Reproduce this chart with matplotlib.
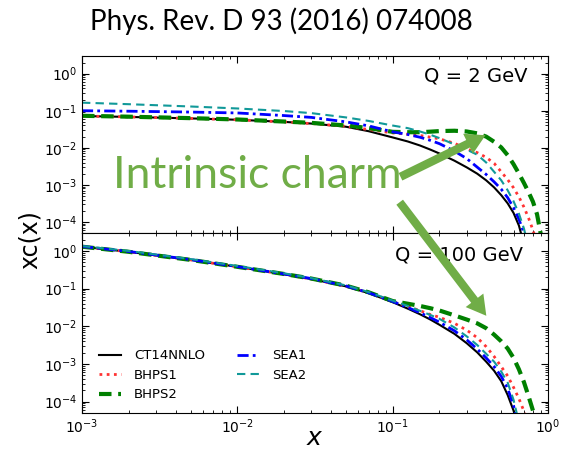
import numpy as np
import matplotlib
matplotlib.use("Agg")
import matplotlib.pyplot as plt
from matplotlib.patches import FancyArrowPatch

# x grid shared by all curves
x = [1e-3, 2e-3, 5e-3, 1e-2, 2e-2, 3e-2, 5e-2, 7e-2, 0.1, 0.125, 0.15, 0.175,
     0.2, 0.25, 0.3, 0.35, 0.4, 0.45, 0.5, 0.55, 0.6, 0.65, 0.7, 0.75, 0.8,
     0.85, 0.9]

# Q = 2 GeV
ct14_q2 = [0.072, 0.068, 0.062, 0.057, 0.050, 0.045, 0.037, 0.028, 0.019, 0.0148,
           0.0115, 0.0089, 0.0070, 0.00447, 0.00295, 0.0020, 0.00132, 8.5e-4,
           5.25e-4, 3.16e-4, 1.74e-4, 7.9e-5, 2.5e-5]
bhps1_q2 = [0.072, 0.068, 0.062, 0.057, 0.050, 0.045, 0.038, 0.031, 0.0251, 0.0232,
            0.0214, 0.0193, 0.0174, 0.0132, 0.0093, 0.0074, 0.0055, 0.0038, 0.00224,
            0.00138, 8.3e-4, 4.7e-4, 2.5e-4, 1.26e-4, 6e-5, 2.5e-5]
bhps2_q2 = [0.073, 0.069, 0.063, 0.058, 0.051, 0.047, 0.040, 0.034, 0.0269, 0.0263,
            0.0263, 0.0272, 0.0282, 0.0288, 0.0275, 0.0245, 0.020, 0.0145, 0.0102,
            0.0063, 0.0036, 0.0020, 0.00112, 6.3e-4, 3.5e-4, 1.6e-4, 4.5e-5]
sea1_q2 = [0.10, 0.097, 0.092, 0.087, 0.074, 0.066, 0.050, 0.039, 0.0269, 0.0229,
           0.0192, 0.0158, 0.0129, 0.0081, 0.0051, 0.0030, 0.0019, 0.0012, 7.6e-4,
           4.5e-4, 2.4e-4, 1.17e-4, 5e-5, 1.8e-5]
sea2_q2 = [0.165, 0.15, 0.13, 0.115, 0.098, 0.086, 0.066, 0.053, 0.0398, 0.0339,
           0.0275, 0.0224, 0.0182, 0.0123, 0.0089, 0.0065, 0.0040, 0.00224,
           0.00132, 7.1e-4, 3.6e-4, 1.66e-4, 6.6e-5, 2e-5]

# Q = 100 GeV
ct14_q100 = [1.3, 0.95, 0.58, 0.38, 0.24, 0.18, 0.115, 0.076, 0.0437, 0.0295,
             0.0209, 0.0151, 0.011, 0.0063, 0.00355, 0.00204, 0.00115, 6.6e-4,
             3.5e-4, 1.5e-4, 5.8e-5, 1.6e-5]
bhps1_q100 = [1.3, 0.95, 0.58, 0.38, 0.24, 0.18, 0.116, 0.078, 0.046, 0.034, 0.026,
              0.0205, 0.0174, 0.012, 0.0079, 0.0050, 0.00288, 0.00158, 8.5e-4,
              4.8e-4, 2.4e-4, 1.2e-4, 5.6e-5, 2.2e-5]
bhps2_q100 = [1.3, 0.95, 0.58, 0.38, 0.245, 0.185, 0.12, 0.080, 0.0468, 0.0398,
              0.0347, 0.0302, 0.0263, 0.0195, 0.0151, 0.012, 0.0089, 0.0060, 0.0040,
              0.00257, 0.00145, 7.2e-4, 3.3e-4, 1.38e-4, 5.8e-5, 2e-5]
sea1_q100 = [1.32, 0.97, 0.59, 0.385, 0.245, 0.185, 0.118, 0.078, 0.0457, 0.0316,
             0.0229, 0.017, 0.0129, 0.0076, 0.00437, 0.0025, 0.00145, 8.5e-4,
             4.7e-4, 2.24e-4, 7.9e-5, 2e-5]
sea2_q100 = [1.35, 1.0, 0.61, 0.40, 0.255, 0.19, 0.122, 0.081, 0.048, 0.0347,
             0.0257, 0.020, 0.0158, 0.0093, 0.0054, 0.0032, 0.00186, 0.00115,
             6.3e-4, 3.2e-4, 1.12e-4, 2.8e-5]

labels = ["CT14NNLO", "BHPS1", "BHPS2", "SEA1", "SEA2"]
panels = [("Q = 2 GeV", [ct14_q2, bhps1_q2, bhps2_q2, sea1_q2, sea2_q2]),
          ("Q = 100 GeV", [ct14_q100, bhps1_q100, bhps2_q100, sea1_q100, sea2_q100])]

styles = [dict(color="black", ls="-", lw=1.5),
          dict(color="#ff3333", ls=(0, (1, 1.6)), lw=2.0),
          dict(color="#008000", ls=(0, (3, 1.6)), lw=3.0),
          dict(color="#0000ff", ls=(0, (4, 1.5, 1, 1.5)), lw=2.0),
          dict(color="#119999", ls=(0, (4, 2.5)), lw=1.5)]

W, H = 561, 453
fig = plt.figure(figsize=(W / 100, H / 100), dpi=100)

left, right = 82, 548
tops = [(56, 233), (233, 413)]
axes = []
for (t, b) in tops:
    ax = fig.add_axes([left / W, 1 - b / H, (right - left) / W, (b - t) / H])
    axes.append(ax)

green_c = "#70ad47"
for i, (ax, (qtext, series)) in enumerate(zip(axes, panels)):
    for lab, ys, st in zip(labels, series, styles):
        ax.plot(x[:len(ys)], ys, label=lab, **st)
    ax.set_xscale("log")
    ax.set_yscale("log")
    ax.set_xlim(1e-3, 1)
    ax.set_ylim(5e-5, 3)
    ax.set_yticks([1e-4, 1e-3, 1e-2, 1e-1, 1])
    ax.tick_params(which="both", direction="in", top=True, right=True,
                   labelsize=10)
    ax.tick_params(which="major", length=5)
    ax.tick_params(which="minor", length=2.5)
    ax.text(0.955 if i == 0 else 0.946, 0.887 if i == 0 else 0.878, qtext,
            transform=ax.transAxes, ha="right", va="center", fontsize=14)
    if i == 0:
        ax.tick_params(labelbottom=False)

axes[1].legend(loc="lower left", ncol=2, frameon=False, fontsize=9.5,
               handlelength=1.7, handletextpad=1.0, columnspacing=2.4,
               labelspacing=0.48, bbox_to_anchor=(0.01, 0.0))
fig.text(315 / W, 1 - 438 / H, "$x$", ha="center", va="center", fontsize=18)
fig.text(30 / W, 1 - 240 / H, "xc(x)", rotation=90, ha="center", va="center",
         fontsize=17)

fig.text(281 / W, 1 - 21 / H, "Phys. Rev. D 93 (2016) 074008", ha="center",
         va="center", fontsize=20, family="Lato")
fig.text(257 / W, 1 - 176 / H, "Intrinsic charm", ha="center", va="center",
         fontsize=32, family="Lato", color=green_c)

# green arrows drawn in figure pixels (y downward)
over = fig.add_axes([0, 0, 1, 1], facecolor="none")
over.set_xlim(0, W)
over.set_ylim(H, 0)
over.axis("off")
for (x0, y0, x1, y1) in [(398, 178, 488, 134), (398, 200, 488, 318)]:
    arr = FancyArrowPatch((x0, y0), (x1, y1), mutation_scale=1,
                          arrowstyle="simple,head_width=16,head_length=14,tail_width=6",
                          color=green_c, lw=0, zorder=10)
    over.add_patch(arr)

fig.savefig("out.png", dpi=100)
